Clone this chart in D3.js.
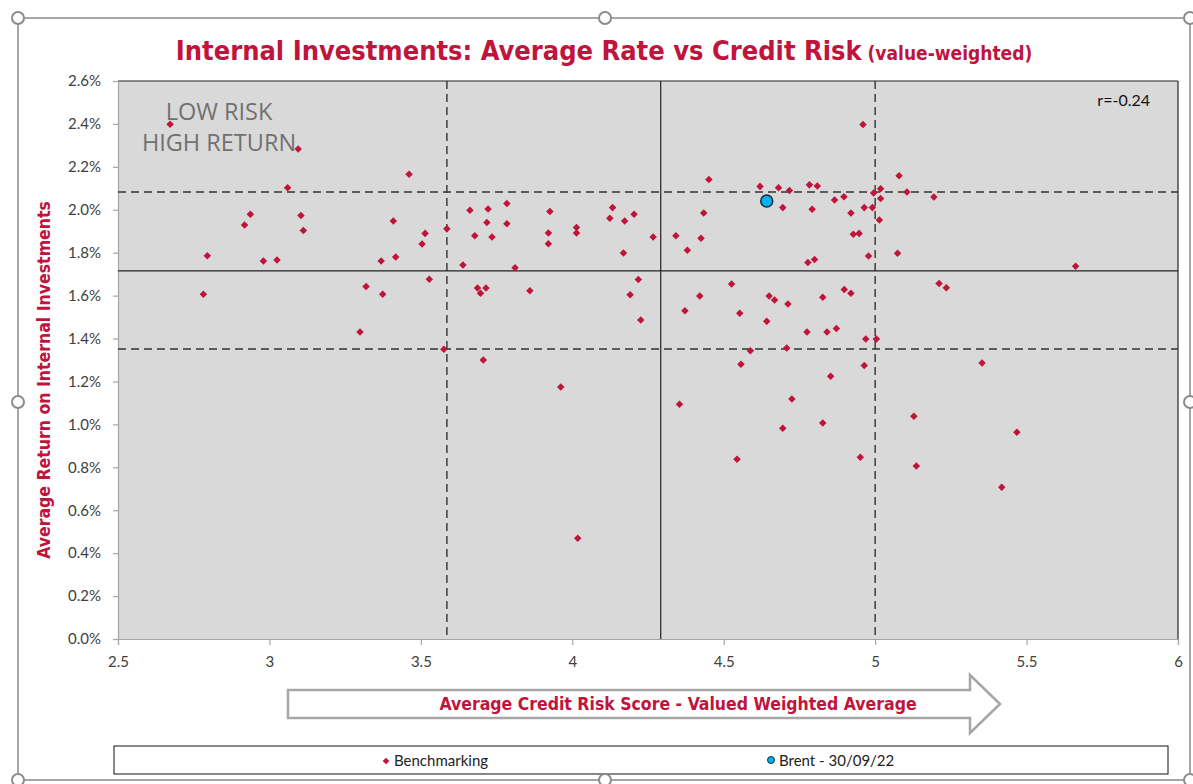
<!DOCTYPE html>
<html>
<head>
<meta charset="utf-8">
<script src="https://cdn.jsdelivr.net/npm/d3@7"></script>
<style>
  body { margin: 0; background: #fff; }
  text { font-family: Lato, "Open Sans", sans-serif; }
  .narrow { font-family: "Liberation Sans Narrow", "DejaVu Sans Condensed", "Arial Narrow", sans-serif; }
</style>
</head>
<body>
<svg id="chart" width="1193" height="784"></svg>
<script>
// benchmarking points: [credit risk score, average return %]
var benchmarking = [
  [2.672, 2.398], [3.095, 2.283], [3.461, 2.165], [3.060, 2.103], [2.937, 1.979],
  [2.918, 1.929], [3.104, 1.973], [3.112, 1.903], [2.795, 1.786], [2.980, 1.761],
  [3.025, 1.766], [3.409, 1.948], [3.514, 1.890], [3.504, 1.841], [3.369, 1.761],
  [3.417, 1.780], [3.586, 1.911], [3.639, 1.743], [3.662, 1.998], [3.528, 1.676],
  [2.782, 1.606], [3.319, 1.642], [3.374, 1.606], [3.299, 1.431], [3.576, 1.350],
  [3.722, 2.004], [3.718, 1.941], [3.678, 1.879], [3.735, 1.873], [3.784, 2.029],
  [3.784, 1.935], [3.811, 1.730], [3.926, 1.992], [3.921, 1.892], [3.921, 1.842],
  [4.014, 1.917], [4.014, 1.892], [4.133, 2.010], [4.124, 1.960], [4.173, 1.948],
  [4.204, 1.979], [4.169, 1.799], [4.267, 1.873], [4.218, 1.675], [4.451, 2.141],
  [4.434, 1.985], [4.342, 1.879], [4.425, 1.867], [4.380, 1.811], [4.620, 2.109],
  [4.681, 2.103], [4.717, 2.090], [4.695, 2.010], [4.783, 2.116], [4.809, 2.111],
  [4.792, 2.002], [4.866, 2.046], [4.897, 2.061], [4.920, 1.985], [4.964, 2.010],
  [4.991, 2.010], [4.995, 2.078], [5.018, 2.098], [5.018, 2.052], [5.014, 1.952],
  [5.079, 2.159], [5.105, 2.083], [5.194, 2.060], [4.928, 1.886], [4.947, 1.890],
  [4.978, 1.785], [5.074, 1.797], [4.778, 1.754], [4.800, 1.768], [4.526, 1.654],
  [5.211, 1.656], [5.235, 1.637], [4.960, 2.397], [5.662, 1.737], [3.687, 1.636],
  [3.715, 1.636], [3.697, 1.611], [3.860, 1.623], [3.706, 1.300], [3.962, 1.174],
  [4.191, 1.604], [4.226, 1.486], [4.354, 1.094], [4.372, 1.530], [4.421, 1.598],
  [4.553, 1.518], [4.650, 1.598], [4.668, 1.580], [4.712, 1.561], [4.642, 1.480],
  [4.588, 1.343], [4.557, 1.280], [4.708, 1.356], [4.725, 1.118], [4.695, 0.982],
  [4.544, 0.837], [4.827, 1.592], [4.898, 1.629], [4.920, 1.611], [4.775, 1.431],
  [4.841, 1.431], [4.872, 1.447], [4.969, 1.398], [5.004, 1.398], [4.964, 1.274],
  [4.853, 1.224], [5.353, 1.286], [4.827, 1.007], [5.128, 1.038], [5.468, 0.963],
  [4.951, 0.847], [5.136, 0.806], [5.418, 0.707], [4.018, 0.469]
]
var brent = [[4.642, 2.041]]

// mean and +/- 1 sd reference lines
var xDashed = [3.586, 5.0]
var xSolid = [4.292]
var yDashed = [2.083, 1.351]
var ySolid = [1.715]

var xTicks = [2.5, 3, 3.5, 4, 4.5, 5, 5.5, 6]
var yTicks = [0, 0.2, 0.4, 0.6, 0.8, 1.0, 1.2, 1.4, 1.6, 1.8, 2.0, 2.2, 2.4, 2.6]

var crimson = '#c0143c'
var svg = d3.select('#chart')

// outer chart frame with selection handles
svg.append('rect').attr('x', 18).attr('y', 18).attr('width', 1172).attr('height', 762)
  .attr('fill', '#fff').attr('stroke', '#a6a6a6').attr('stroke-width', 2)

var m = {left: 118, top: 81, right: 1178, bottom: 639}
var x = d3.scaleLinear().domain([2.5, 6]).range([m.left, m.right])
var y = d3.scaleLinear().domain([0, 2.6]).range([m.bottom, m.top])

svg.append('rect').attr('x', m.left).attr('y', m.top)
  .attr('width', m.right - m.left).attr('height', m.bottom - m.top)
  .attr('fill', '#d9d9d9')
svg.append('line').attr('x1', m.left).attr('x2', m.right).attr('y1', m.top).attr('y2', m.top)
  .attr('stroke', '#222').attr('stroke-width', 1.2)
svg.append('line').attr('x1', m.right).attr('x2', m.right).attr('y1', m.top).attr('y2', m.bottom)
  .attr('stroke', '#222').attr('stroke-width', 1.2)

// axes
var xAxis = svg.append('g').attr('transform', 'translate(0,' + m.bottom + ')')
  .call(d3.axisBottom(x).tickValues(xTicks).tickSize(6).tickPadding(11).tickFormat(d => d))
var yAxis = svg.append('g').attr('transform', 'translate(' + m.left + ',0)')
  .call(d3.axisLeft(y).tickValues(yTicks).tickSize(5).tickPadding(12).tickFormat(d => d.toFixed(1) + '%'))
svg.selectAll('.domain, .tick line').attr('stroke', '#a6a6a6').attr('stroke-width', 1.2)
svg.selectAll('.tick text').attr('fill', '#404040').style('font-size', '15px')
  .style('font-family', 'Lato, sans-serif')

// reference lines
var refs = svg.append('g')
refs.selectAll('.vd').data(xDashed).join('line')
  .attr('x1', d => x(d)).attr('x2', d => x(d)).attr('y1', m.top).attr('y2', m.bottom)
  .attr('stroke', '#333').attr('stroke-width', 1.4).attr('stroke-dasharray', '8,5')
refs.selectAll('.hd').data(yDashed).join('line')
  .attr('y1', d => y(d)).attr('y2', d => y(d)).attr('x1', m.left).attr('x2', m.right)
  .attr('stroke', '#333').attr('stroke-width', 1.4).attr('stroke-dasharray', '8,5')
refs.selectAll('.vs').data(xSolid).join('line')
  .attr('x1', d => x(d)).attr('x2', d => x(d)).attr('y1', m.top).attr('y2', m.bottom)
  .attr('stroke', '#222').attr('stroke-width', 1.2)
refs.selectAll('.hs').data(ySolid).join('line')
  .attr('y1', d => y(d)).attr('y2', d => y(d)).attr('x1', m.left).attr('x2', m.right)
  .attr('stroke', '#222').attr('stroke-width', 1.2)

// annotations
var note = svg.append('text').attr('x', 219).attr('y', 120).attr('text-anchor', 'middle')
  .attr('fill', '#717171').style('font-size', '23.5px').style('font-family', '"Open Sans", sans-serif')
note.append('tspan').attr('x', 219).text('LOW RISK')
note.append('tspan').attr('x', 219).attr('dy', 31).text('HIGH RETURN')

svg.append('text').attr('x', 1150).attr('y', 106).attr('text-anchor', 'end')
  .attr('fill', '#111').style('font-size', '16px').text('r=-0.24')

// points
var diamond = d3.symbol().type(d3.symbolDiamond2).size(36)
svg.append('g').selectAll('path').data(benchmarking).join('path')
  .attr('d', diamond)
  .attr('transform', d => 'translate(' + x(d[0]) + ',' + y(d[1]) + ')')
  .attr('fill', crimson)

svg.append('g').selectAll('circle').data(brent).join('circle')
  .attr('cx', d => x(d[0])).attr('cy', d => y(d[1])).attr('r', 6)
  .attr('fill', '#00b0f0').attr('stroke', '#1a2a3a').attr('stroke-width', 1.5)

// title
var title = svg.append('text').attr('class', 'narrow').attr('x', 604).attr('y', 60)
  .attr('text-anchor', 'middle').attr('fill', crimson).style('font-weight', 'bold')
title.append('tspan').style('font-size', '27px').text('Internal Investments: Average Rate vs Credit Risk')
title.append('tspan').style('font-size', '19px').text(' (value-weighted)')

// y axis title
svg.append('text').attr('class', 'narrow')
  .attr('transform', 'translate(50,' + ((m.top + m.bottom) / 2 + 20) + ') rotate(-90)')
  .attr('text-anchor', 'middle').attr('fill', crimson).style('font-weight', 'bold')
  .style('font-size', '17.5px').text('Average Return on Internal Investments')

// x axis title inside arrow
var arrow = [[288, 690], [970, 690], [970, 675], [1000, 704], [970, 733], [970, 718], [288, 718]]
svg.append('path').attr('d', d3.line()(arrow) + 'Z')
  .attr('fill', '#fff').attr('stroke', '#a6a6a6').attr('stroke-width', 2.5)
svg.append('text').attr('class', 'narrow').attr('x', 678).attr('y', 710)
  .attr('text-anchor', 'middle').attr('fill', crimson).style('font-weight', 'bold')
  .style('font-size', '17.5px').text('Average Credit Risk Score - Valued Weighted Average')

// legend
svg.append('rect').attr('x', 114).attr('y', 746).attr('width', 1054).attr('height', 28)
  .attr('fill', '#fff').attr('stroke', '#111').attr('stroke-width', 1)
svg.append('path').attr('d', d3.symbol().type(d3.symbolDiamond2).size(28))
  .attr('transform', 'translate(386,761)').attr('fill', crimson)
svg.append('text').attr('x', 394).attr('y', 766).attr('fill', '#222')
  .style('font-size', '15px').text('Benchmarking')
svg.append('circle').attr('cx', 771).attr('cy', 760).attr('r', 3.5)
  .attr('fill', '#00b0f0').attr('stroke', '#1a2a3a').attr('stroke-width', 1)
svg.append('text').attr('x', 779).attr('y', 766).attr('fill', '#222')
  .style('font-size', '15px').text('Brent - 30/09/22')

// selection handles on the frame
var handles = [[18, 18], [605, 18], [1190, 18], [18, 402], [1190, 402], [18, 780], [605, 780], [1190, 780]]
svg.append('g').selectAll('circle').data(handles).join('circle')
  .attr('cx', d => d[0]).attr('cy', d => d[1]).attr('r', 6)
  .attr('fill', '#fff').attr('stroke', '#8c8c8c').attr('stroke-width', 2)
</script>
</body>
</html>
